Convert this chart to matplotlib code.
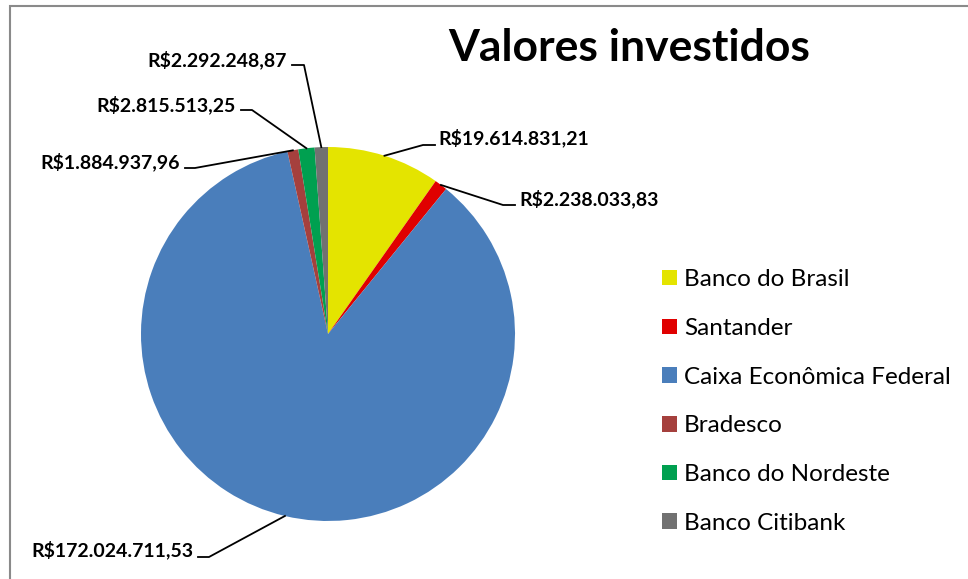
import matplotlib.pyplot as plt
import numpy as np
from matplotlib.patches import Rectangle

bancos = ['Banco do Brasil', 'Santander', 'Caixa Econômica Federal',
          'Bradesco', 'Banco do Nordeste', 'Banco Citibank']
valores = [19614831.21, 2238033.83, 172024711.53,
           1884937.96, 2815513.25, 2292248.87]
rotulos = ['R$19.614.831,21', 'R$2.238.033,83', 'R$172.024.711,53',
           'R$1.884.937,96', 'R$2.815.513,25', 'R$2.292.248,87']
cores = ['#E4E400', '#E00000', '#4A7EBB', '#A5403D', '#00A050', '#717171']

W, H = 968, 579
# label layout in pixels (x of text edge, y of text centre, elbow x, elbow y, end x)
rot_pos = [
    (438, 138, 423, 145, 435),
    (519, 199, 503, 205, 515),
    (193, 550, 209, 557, 198),
    (180, 162, 195, 168, 185),
    (236, 105, 252, 110, 241),
    (287, 60, 304, 65, 292),
]

plt.rcParams['font.family'] = ['Lato', 'DejaVu Sans']

fig = plt.figure(figsize=(W / 100, H / 100), dpi=100)
ax = fig.add_axes([0, 0, 1, 1])

cx, cy, r = 328, H - 334, 187
wedges, _ = ax.pie(valores, colors=cores, startangle=90, counterclock=False,
                   center=(cx, cy), radius=r, wedgeprops=dict(linewidth=0))

ax.set_xlim(0, W)
ax.set_ylim(0, H)
ax.set_aspect('auto')
ax.axis('off')

for w, txt, (tx, ty, ex, ey, lx) in zip(wedges, rotulos, rot_pos):
    ang = np.deg2rad((w.theta1 + w.theta2) / 2)
    px, py = cx + r * np.cos(ang), cy + r * np.sin(ang)
    ax.plot([px, ex, lx], [py, H - ey, H - ey], color='black', lw=1.3)
    ha = 'left' if tx > cx else 'right'
    ax.text(tx, H - ty, txt, ha=ha, va='center', fontsize=14,
            fontweight='bold', color='black')

ax.text(629, H - 48, 'Valores investidos', ha='center', va='center',
        fontsize=32, fontweight='bold', color='black')

leg = fig.legend(wedges, bancos, loc='center left',
                 bbox_to_anchor=(662 / W, 1 - 401.5 / H), frameon=False,
                 fontsize=17.5, handlelength=0.6, handleheight=0.6,
                 handletextpad=0.3, labelspacing=1.14, borderpad=0,
                 borderaxespad=0)

# chart border (goes past right and bottom edges)
ax.add_patch(Rectangle((9.5, -20), W + 20, H - 5.5 + 20, fill=False,
                       edgecolor='#8A8A8A', lw=1.5, clip_on=False))

fig.savefig('out.png', dpi=100)
